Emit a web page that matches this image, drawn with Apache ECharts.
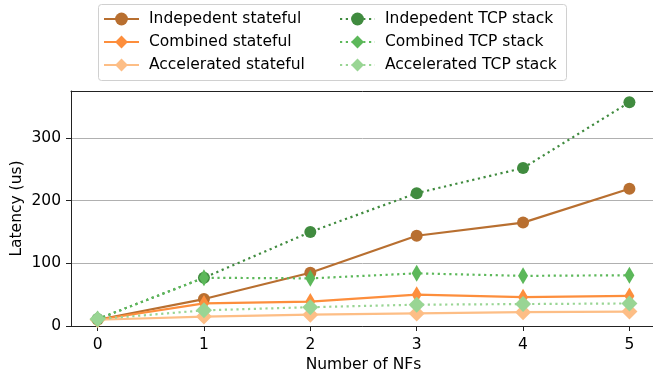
<!DOCTYPE html>
<html>
<head>
<meta charset="utf-8">
<script src="https://cdn.jsdelivr.net/npm/echarts@6/dist/echarts.min.js"></script>
<style>html,body{margin:0;padding:0;background:#fff}#c{width:653px;height:371px}</style>
</head>
<body>
<div id="c"></div>
<script>
const xTicks = [0, 1, 2, 3, 4, 5];
const yTicks = [0, 100, 200, 300];
const nfCounts = [0, 1, 2, 3, 4, 5];
const indepStateful = [10, 43, 85, 144, 165, 219];
const combinedStateful = [10, 36, 39, 50, 46, 48];
const accelStateful = [10, 15, 18, 20, 22, 23];
const indepTcp = [11, 77, 150, 212, 252, 357];
const combinedTcp = [11, 77, 76, 84, 80, 81];
const accelTcp = [11, 25, 30, 34, 35, 36];

const FONT = 'DejaVu Sans';
const FS = 15.5;
function mk(name, data, color, symbol, size, dotted) {
  return {
    name: name, type: 'line',
    data: data.map((v, i) => [nfCounts[i], v]),
    symbol: symbol, symbolSize: size, showSymbol: true,
    itemStyle: { color: color, borderWidth: 0 },
    lineStyle: { color: color, width: 2.2, type: dotted ? [2.2, 3.6] : 'solid' },
    emphasis: { disabled: true },
    animation: false
  };
}
const series = [
  mk('Indepedent stateful', indepStateful, '#b86f30', 'circle', 12, false),
  mk('Combined stateful', combinedStateful, '#fd8e3c', 'diamond', [10, 17], false),
  mk('Accelerated stateful', accelStateful, '#fdbe86', 'diamond', [16, 16], false),
  mk('Indepedent TCP stack', indepTcp, '#408b3f', 'circle', 12, true),
  mk('Combined TCP stack', combinedTcp, '#5cb85a', 'diamond', [10, 17], true),
  mk('Accelerated TCP stack', accelTcp, '#99d594', 'diamond', [16, 16], true)
];
const legendCommon = {
  orient: 'vertical', top: 11, padding: 0, itemWidth: 35, itemHeight: 16, itemGap: 7,
  textStyle: { fontFamily: FONT, fontSize: FS, color: '#000', padding: [0, 0, 0, 5] },
  selectedMode: false
};
const chart = echarts.init(document.getElementById('c'), null, { renderer: 'canvas' });
chart.setOption({
  backgroundColor: '#fff',
  animation: false,
  graphic: [{
    type: 'rect', left: 98, top: 4, z: 0,
    shape: { width: 468, height: 76, r: 3 },
    style: { fill: '#fff', stroke: '#d0d0d0', lineWidth: 1 }
  }],
  legend: [
    Object.assign({ left: 103, data: series.slice(0, 3).map(s => s.name) }, legendCommon),
    Object.assign({ left: 339, data: series.slice(3).map(s => s.name) }, legendCommon)
  ],
  grid: { left: 71, top: 91, width: 585, height: 235, outerBoundsMode: 'none', containLabel: false, show: false },
  xAxis: [{
    type: 'value', min: -0.25, max: 5.25,
    name: 'Number of NFs', nameLocation: 'middle', nameGap: 31, nameMoveOverlap: false,
    nameTextStyle: { fontFamily: FONT, fontSize: FS, color: '#000' },
    axisLine: { show: true, onZero: false, lineStyle: { color: '#222', width: 1 } },
    axisTick: { show: true, length: 5, customValues: xTicks, lineStyle: { color: '#222' } },
    axisLabel: { customValues: xTicks, margin: 11, fontFamily: FONT, fontSize: FS, color: '#000' },
    splitLine: { show: false }
  }, {
    type: 'value', min: -0.25, max: 5.25, position: 'top',
    axisLine: { show: true, onZero: false, lineStyle: { color: '#222', width: 1 } },
    axisTick: { show: false }, axisLabel: { show: false }, splitLine: { show: false }
  }],
  yAxis: {
    type: 'value', min: 0, max: 375,
    name: 'Latency (us)', nameLocation: 'middle', nameGap: 46, nameMoveOverlap: false,
    nameTextStyle: { fontFamily: FONT, fontSize: FS, color: '#000' },
    axisLine: { show: true, onZero: false, lineStyle: { color: '#222', width: 1 } },
    axisTick: { show: true, length: 5, customValues: yTicks, lineStyle: { color: '#222' } },
    axisLabel: { customValues: yTicks, margin: 10, fontFamily: FONT, fontSize: FS, color: '#000' },
    splitLine: { show: true, lineStyle: { color: '#b0b0b0', width: 1 } }
  },
  series: series
});
</script>
</body>
</html>
